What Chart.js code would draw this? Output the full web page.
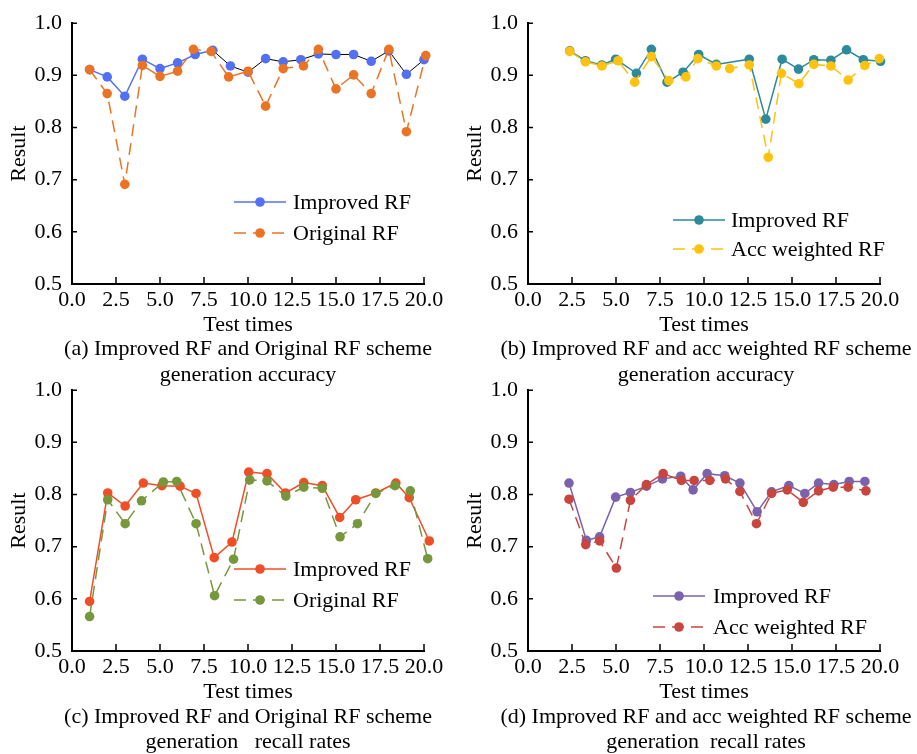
<!DOCTYPE html>
<html>
<head>
<meta charset="utf-8">
<script src="https://cdn.jsdelivr.net/npm/chart.js@4.4.1/dist/chart.umd.min.js"></script>
<style>
    body { margin: 0; background: #fff; width: 917px; height: 754px; position: relative; overflow: hidden; }
    canvas { position: absolute; }
    .caption {
        position: absolute; width: 480px; text-align: center; white-space: pre;
        font-family: "Liberation Serif", "Times New Roman", serif; font-size: 22px; line-height: 26px; color: #000;
    }
</style>
</head>
<body>
<canvas id="chart-a" width="461" height="340" style="left:0;top:0"></canvas>
<canvas id="chart-b" width="461" height="340" style="left:456px;top:0"></canvas>
<canvas id="chart-c" width="461" height="340" style="left:0;top:367px"></canvas>
<canvas id="chart-d" width="461" height="340" style="left:456px;top:367px"></canvas>

<div class="caption" style="left:8px;top:335px">(a) Improved RF and Original RF scheme
generation accuracy</div>
<div class="caption" style="left:466px;top:335px">(b) Improved RF and acc weighted RF scheme
generation accuracy</div>
<div class="caption" style="left:8px;top:703px;line-height:25px">(c) Improved RF and Original RF scheme
generation   recall rates</div>
<div class="caption" style="left:466px;top:703px;line-height:25px">(d) Improved RF and acc weighted RF scheme
generation  recall rates</div>

<script>
// values
const aX = [1, 2, 3, 4, 5, 6, 7, 8, 9, 10, 11, 12, 13, 14, 15, 16, 17, 18, 19, 20];
const aImproved = [0.911, 0.897, 0.860, 0.931, 0.913, 0.924, 0.940, 0.948, 0.918, 0.906, 0.932, 0.926, 0.930, 0.941, 0.940, 0.940, 0.927, 0.947, 0.902, 0.930];
const aOriginalX = [1, 2, 3, 4, 5, 6, 6.9, 7.9, 8.9, 10, 11, 12, 13.15, 14, 15, 16, 17, 18, 19, 20.1];
const aOriginal = [0.911, 0.865, 0.691, 0.919, 0.898, 0.908, 0.950, 0.946, 0.897, 0.908, 0.841, 0.913, 0.918, 0.950, 0.874, 0.901, 0.865, 0.950, 0.792, 0.938];

const bImprovedX = [2.37, 3.26, 4.2, 4.98, 6.16, 7.01, 7.9, 8.81, 9.7, 10.7, 12.57, 13.51, 14.44, 15.37, 16.24, 17.21, 18.1, 19.05, 20.03];
const bImproved = [0.947, 0.928, 0.920, 0.931, 0.904, 0.950, 0.887, 0.906, 0.940, 0.921, 0.931, 0.816, 0.931, 0.912, 0.930, 0.929, 0.949, 0.930, 0.927];
const bAccX = [2.37, 3.26, 4.2, 5.12, 6.06, 7.01, 8.0, 8.97, 9.65, 10.7, 11.46, 12.57, 13.65, 14.4, 15.39, 16.24, 17.21, 18.19, 19.14, 19.96];
const bAcc = [0.946, 0.926, 0.918, 0.928, 0.887, 0.936, 0.890, 0.897, 0.932, 0.918, 0.913, 0.920, 0.743, 0.904, 0.884, 0.921, 0.918, 0.891, 0.919, 0.932];

const cImprovedX = [1.0, 2.03, 3.02, 4.05, 5.11, 6.14, 7.05, 8.08, 9.09, 10.04, 11.08, 12.13, 13.17, 14.22, 15.21, 16.12, 17.26, 18.4, 19.16, 20.3];
const cImproved = [0.595, 0.803, 0.778, 0.822, 0.817, 0.816, 0.802, 0.679, 0.709, 0.843, 0.840, 0.803, 0.823, 0.817, 0.756, 0.790, 0.803, 0.822, 0.794, 0.711];
const cOriginalX = [1.0, 2.03, 3.02, 3.95, 5.19, 5.95, 7.05, 8.1, 9.18, 10.1, 11.08, 12.15, 13.17, 14.22, 15.23, 16.22, 17.26, 18.35, 19.22, 20.21];
const cOriginal = [0.566, 0.790, 0.744, 0.788, 0.824, 0.825, 0.744, 0.606, 0.676, 0.828, 0.826, 0.797, 0.814, 0.812, 0.719, 0.744, 0.802, 0.817, 0.807, 0.677];

const dImprovedX = [2.33, 3.32, 4.07, 4.98, 5.82, 6.73, 7.64, 8.68, 9.38, 10.18, 11.18, 12.04, 13.02, 13.84, 14.82, 15.73, 16.51, 17.38, 18.25, 19.14];
const dImproved = [0.822, 0.712, 0.719, 0.795, 0.804, 0.816, 0.830, 0.835, 0.809, 0.840, 0.836, 0.822, 0.767, 0.805, 0.817, 0.802, 0.822, 0.819, 0.825, 0.825];
const dAccX = [2.33, 3.28, 4.07, 5.02, 5.82, 6.73, 7.68, 8.72, 9.44, 10.33, 11.22, 12.04, 12.98, 13.84, 14.73, 15.64, 16.51, 17.34, 18.19, 19.2];
const dAcc = [0.791, 0.704, 0.711, 0.659, 0.789, 0.819, 0.840, 0.827, 0.827, 0.827, 0.830, 0.806, 0.744, 0.802, 0.809, 0.785, 0.807, 0.814, 0.814, 0.807];

const xTicks = [0, 2.5, 5, 7.5, 10, 12.5, 15, 17.5, 20];
const yTicks = [0.5, 0.6, 0.7, 0.8, 0.9, 1.0];

const FONT = '"Liberation Serif", "Times New Roman", serif';
const DASH = [12, 7];

function toPoints(xs, ys) {
    return xs.map((x, i) => ({x: x, y: ys[i]}));
}

// tick marks point into the plot, so draw them by hand
const innerTicks = {
    id: 'innerTicks',
    afterDraw(chart) {
        const ctx = chart.ctx;
        const area = chart.chartArea;
        ctx.save();
        ctx.strokeStyle = '#000';
        ctx.lineWidth = 1.5;
        ctx.beginPath();
        chart.scales.y.ticks.forEach(t => {
            const py = chart.scales.y.getPixelForValue(t.value);
            ctx.moveTo(area.left, py);
            ctx.lineTo(area.left + 5, py);
        });
        chart.scales.x.ticks.forEach(t => {
            const px = chart.scales.x.getPixelForValue(t.value);
            ctx.moveTo(px, area.bottom);
            ctx.lineTo(px, area.bottom - 7);
        });
        ctx.stroke();
        ctx.restore();
    }
};

// legend sits inside the plot, lower right
const boxLegend = {
    id: 'boxLegend',
    afterDraw(chart, args, opts) {
        const ctx = chart.ctx;
        ctx.save();
        chart.data.datasets.forEach((ds, i) => {
            const y = opts.y + i * opts.gap;
            ctx.strokeStyle = ds.borderColor;
            ctx.lineWidth = 1.5;
            ctx.setLineDash(ds.borderDash || []);
            ctx.beginPath();
            ctx.moveTo(opts.x, y);
            ctx.lineTo(opts.x + 52, y);
            ctx.stroke();
            ctx.setLineDash([]);
            ctx.fillStyle = ds.pointBackgroundColor;
            ctx.beginPath();
            ctx.arc(opts.x + 26, y, 4.8, 0, Math.PI * 2);
            ctx.fill();
            ctx.fillStyle = '#000';
            ctx.font = '22px ' + FONT;
            ctx.textBaseline = 'middle';
            ctx.fillText(ds.label, opts.textX, y + 1);
        });
        ctx.restore();
    }
};

function makeChart(id, first, second, legendPos, plotTop) {
    const ctx = document.getElementById(id).getContext('2d');
    const datasets = [first, second].map((s, i) => ({
        label: s.label,
        data: s.data,
        borderColor: s.color,
        backgroundColor: s.color,
        pointBackgroundColor: s.color,
        pointBorderWidth: 0,
        pointRadius: 4.8,
        pointHoverRadius: 9,   // only widens the margin so points just past 20 still get drawn
        borderWidth: 1.5,
        borderDash: i == 1 ? DASH : [],
        segment: s.segment,
        tension: 0,
        clip: false,
        order: i == 0 ? 2 : 1
    }));

    return new Chart(ctx, {
        type: 'line',
        data: {datasets: datasets},
        options: {
            responsive: false,
            animation: false,
            events: [],
            devicePixelRatio: 1,
            layout: {padding: {left: 0, top: plotTop, right: 37, bottom: 0}},
            plugins: {
                legend: {display: false},
                tooltip: {enabled: false},
                boxLegend: legendPos
            },
            scales: {
                x: {
                    type: 'linear',
                    min: 0,
                    max: 20,
                    afterBuildTicks: s => { s.ticks = xTicks.map(v => ({value: v})); },
                    afterFit: s => { s.height = 56; },
                    grid: {display: false, drawTicks: false},
                    border: {color: '#000', width: 2},
                    ticks: {
                        color: '#000', padding: 3, maxRotation: 0, autoSkip: false,
                        font: {family: FONT, size: 22},
                        callback: v => v.toFixed(1)
                    },
                    title: {
                        display: true, text: 'Test times', color: '#000',
                        font: {family: FONT, size: 22, lineHeight: 1.2},
                        padding: {top: 0, bottom: 2}
                    }
                },
                y: {
                    min: 0.5,
                    max: 1.0,
                    afterBuildTicks: s => { s.ticks = yTicks.map(v => ({value: v})); },
                    afterFit: s => { s.width = 72; },
                    grid: {display: false, drawTicks: false},
                    border: {color: '#000', width: 2},
                    ticks: {
                        color: '#000', padding: 10,
                        font: {family: FONT, size: 22},
                        callback: v => v.toFixed(1)
                    },
                    title: {
                        display: true, text: 'Result', color: '#000',
                        font: {family: FONT, size: 22, lineHeight: 1.2},
                        padding: {top: 6, bottom: 0}
                    }
                }
            }
        },
        plugins: [innerTicks, boxLegend]
    });
}

const BLUE = '#5470F2';

makeChart('chart-a',
    {
        label: 'Improved RF', color: BLUE, data: toPoints(aX, aImproved),
        // from the 8th point on the line is drawn thin and black
        segment: {
            borderColor: c => c.p0DataIndex >= 7 ? '#000' : BLUE,
            borderWidth: c => c.p0DataIndex >= 7 ? 1 : 1.5
        }
    },
    {label: 'Original RF', color: '#EB7424', data: toPoints(aOriginalX, aOriginal)},
    {x: 234, y: 202, gap: 31, textX: 293}, 19);

makeChart('chart-b',
    {label: 'Improved RF', color: '#2D8A9A', data: toPoints(bImprovedX, bImproved)},
    {label: 'Acc weighted RF', color: '#FFC20E', data: toPoints(bAccX, bAcc)},
    {x: 217, y: 220, gap: 29, textX: 275}, 19);

makeChart('chart-c',
    {label: 'Improved RF', color: '#EF4E27', data: toPoints(cImprovedX, cImproved)},
    {label: 'Original RF', color: '#76973C', data: toPoints(cOriginalX, cOriginal)},
    {x: 234, y: 202, gap: 31, textX: 293}, 19);

makeChart('chart-d',
    {label: 'Improved RF', color: '#7B62AC', data: toPoints(dImprovedX, dImproved)},
    {label: 'Acc weighted RF', color: '#C9463E', data: toPoints(dAccX, dAcc)},
    {x: 197, y: 229, gap: 31, textX: 257}, 19);
</script>
</body>
</html>
